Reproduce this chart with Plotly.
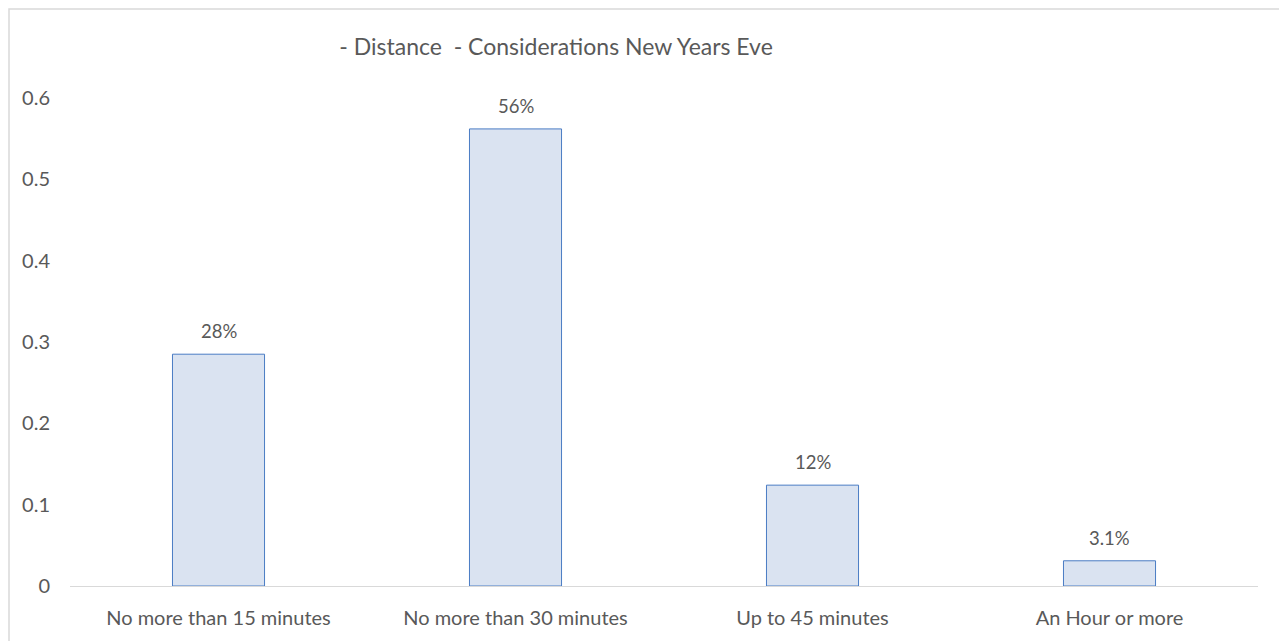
import plotly.graph_objects as go

categories = ["No more than 15 minutes", "No more than 30 minutes", "Up to 45 minutes", "An Hour or more"]
values = [0.285, 0.562, 0.124, 0.031]
value_labels = ["28%", "56%", "12%", "3.1%"]
y_ticks = [0, 0.1, 0.2, 0.3, 0.4, 0.5, 0.6]
y_tick_labels = ["0", "0.1", "0.2", "0.3", "0.4", "0.5", "0.6"]
title_text = " - Distance  - Considerations New Years Eve"

FONT = "Lato, 'Open Sans', sans-serif"
GRAY = "#595959"

fig = go.Figure()
fig.add_trace(go.Bar(
    x=categories, y=values,
    marker=dict(color="#dae3f1", line=dict(color="#4a7cc4", width=1)),
    width=0.31,
))

for c, v, t in zip(categories, values, value_labels):
    fig.add_annotation(x=c, y=v, text=t, showarrow=False, yanchor="bottom",
                       yshift=10, font=dict(size=18.5, color=GRAY, family=FONT))

fig.update_layout(
    width=1279, height=633,
    margin=dict(l=62, r=29, t=90, b=55),
    plot_bgcolor="white", paper_bgcolor="white",
    showlegend=False,
    font=dict(family=FONT, color=GRAY, size=20),
    title=dict(text=title_text, x=0.4285, xanchor="center", y=0.938, yanchor="middle",
               font=dict(size=23, color=GRAY, family=FONT)),
    xaxis=dict(showgrid=False, showline=True, linecolor="#d9d9d9", linewidth=1,
               ticks="", tickfont=dict(size=20, color=GRAY), ticklabelstandoff=14),
    yaxis=dict(range=[0, 0.6], tickvals=y_ticks, ticktext=y_tick_labels,
               showgrid=False, zeroline=False, showline=False, ticks="",
               tickfont=dict(size=20, color=GRAY), ticklabelstandoff=19),
    shapes=[dict(type="rect", xref="paper", yref="paper",
                 x0=-61 / 1188, x1=1 + 26 / 1188, y0=-0.2, y1=1 + 89 / 488,
                 line=dict(color="#d9d9d9", width=1.5), fillcolor="rgba(0,0,0,0)", layer="below")],
)

fig.write_html("out.html")
